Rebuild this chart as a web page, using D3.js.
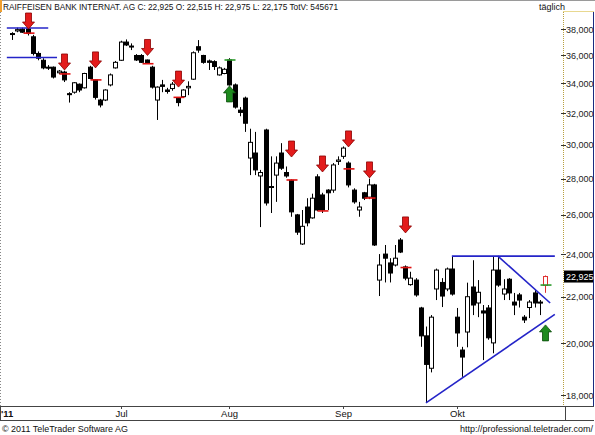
<!DOCTYPE html>
<html>
<head>
<meta charset="utf-8">
<script src="https://cdn.jsdelivr.net/npm/d3@7"></script>
<style>
  body { margin: 0; background: #fff; }
  svg { display: block; font-family: "Liberation Sans", Arial, sans-serif; }
</style>
</head>
<body>
<svg id="chart" width="595" height="435"></svg>
<script>
// daily candles, June - October 2011 (index 0 = first day shown)
const opens  = [37600,37850,37990,38000,37400,36150,35650,35150,35150,34750,
                34800,33300,33400,33950,33700,35150,34250,32870,32870,33900,
                35100,35650,37000,36700,36000,36000,35670,35150,32870,33900,
                33550,33650,33000,33100,33700,34300,36650,36000,35600,35550,
                34600,34700,35670,33900,32200,33000,29200,29500,28150,30920,
                27500,28200,29500,28350,27900,26000,24500,26420,25840,28100,
                27080,27350,27350,29000,29300,28900,27350,26260,27200,26960,
                27640,22760,24000,23570,23470,24700,23380,22550,22760,21500,
                20310,19010,22350,22650,22350,23280,21100,19730,20470,22440,
                21720,21370,21500,20020,23230,22120,22800,21760,22080,21100,
                21520,22170,21760,22515];
const highs  = [37750,38100,38100,38300,37550,36300,35800,35300,35200,34950,
                34900,33400,34100,34000,34750,35250,34300,32950,33600,34700,
                35600,37100,37200,36900,36100,36100,35700,35250,33800,34250,
                33700,34100,33050,33600,34150,36300,37150,36050,35700,35650,
                35200,35100,35800,34000,32400,33100,31000,30800,28500,31000,
                29300,29300,30100,28700,27950,26050,26260,26900,27150,28250,
                27200,27400,28900,29300,29900,29000,27450,26700,27250,28000,
                27700,24000,24450,23800,24450,24800,23450,23150,22850,21550,
                20700,21190,23300,22850,23350,23900,21500,19860,22640,23700,
                22760,21630,21630,23900,23900,22800,22850,22170,22170,21190,
                21850,22300,21850,22975];
const lows   = [37160,37750,37700,37500,36000,35650,35000,34950,34350,34650,
                34100,32700,33300,33400,33650,34300,32900,32380,32800,33800,
                35050,35600,36700,36400,35600,35450,35400,33650,31560,33400,
                33300,33500,32450,33050,33200,34250,36200,35400,34950,34950,
                34550,34650,33850,32300,31800,30800,28200,28200,25360,26500,
                26100,26700,28500,28050,25900,24960,24450,25400,25800,26200,
                26100,26260,27200,28790,29150,27500,26600,25900,26800,26850,
                24400,22030,22650,22650,23400,24050,22750,22500,22000,19860,
                17740,18850,21850,21540,22250,22050,19860,18680,19840,21190,
                21100,19330,20150,19600,22450,21850,21850,21190,21520,20850,
                21060,21520,21190,22175];
const closes = [37650,37950,37750,37650,36150,35800,35100,35100,34450,34870,
                34250,33250,34050,33550,34700,34350,33050,32540,33550,34600,
                35500,37000,36780,36650,35670,35500,35450,33750,33750,33800,
                33450,33950,32700,33550,33800,36200,36400,35500,35500,35200,
                35100,35000,33900,32400,32050,31350,30150,28500,28350,26640,
                27550,28900,28600,28150,26160,25100,25400,25580,26900,26260,
                26260,27200,28790,29080,29800,27640,26700,26420,26900,27640,
                24450,23470,23800,23090,23800,24100,22850,22850,22080,20310,
                19160,21100,23230,22030,23280,22120,20430,19450,22000,21630,
                22200,21280,20230,23230,22530,22350,22170,21630,21850,20980,
                21760,21720,21720,22925];
const totVolume = 545671;

const yTicks = [18000,20000,22000,24000,26000,28000,30000,32000,34000,36000,38000];
const monthLabels = ["Jul","Aug","Sep","Okt"];
const monthIdx = [21,42,64,86];

// sell signals: arrow tip and red stop mark
const sellIdx   = [3,10,16,26,32,54,60,65,69,76];
const sellTip   = [38000,34950,35100,36000,33750,29260,28380,29870,28040,25060];
const sellMark  = [37680,34670,34250,35400,33050,27920,26210,28560,26910,23350];
// buy signals
const buyIdx    = [42,103];
const buyTip    = [33830,20770];
const buyMark   = [35670,22530];

// hand drawn lines: [idx1, price1, idx2, price2]
const trendLines = [
  [-1, 38080, 7, 38080],
  [-1, 35850, 8.7, 35850],
  [85, 23900, 104.9, 23900],
  [93.9, 23900, 104, 21720],
  [80, 17710, 104.9, 21220]
];

const svg = d3.select("#chart");
const fmt = d3.format(",");
const n = closes.length;

const x = d3.scaleLinear().domain([0, n - 1]).range([12, 545]);
const y = d3.scaleLog().domain([18000, 38000]).range([395, 29]);

// frame
svg.append("rect").attr("x", 0).attr("y", 0).attr("width", 595).attr("height", 435).attr("fill", "#fff");
svg.append("line").attr("x1", 0).attr("x2", 595).attr("y1", 0.5).attr("y2", 0.5).attr("stroke", "#9a9a9a");
svg.append("rect").attr("x", 0).attr("y", 0).attr("width", 2).attr("height", 12).attr("fill", "#f0a030");

svg.append("text")
  .attr("x", 3).attr("y", 10)
  .attr("font-size", 9.5).attr("fill", "#111")
  .attr("textLength", 335).attr("lengthAdjust", "spacingAndGlyphs")
  .text(`RAIFFEISEN BANK INTERNAT. AG C: ${fmt(closes[n-1])} O: ${fmt(opens[n-1])} H: ${fmt(highs[n-1])} L: ${fmt(lows[n-1])} TotV: ${totVolume}`);
svg.append("text").attr("x", 539).attr("y", 10).attr("font-size", 9).attr("fill", "#111").text("täglich");

// right axis panel
svg.append("line").attr("x1", 563).attr("x2", 594).attr("y1", 11.5).attr("y2", 11.5).attr("stroke", "#e8d890");
svg.append("line").attr("x1", 563.5).attr("x2", 563.5).attr("y1", 12).attr("y2", 406)
  .attr("stroke", "#b8a040").attr("stroke-dasharray", "1,1");
svg.append("line").attr("x1", 593.5).attr("x2", 593.5).attr("y1", 12).attr("y2", 406).attr("stroke", "#1a2a80");
// left edge
svg.append("line").attr("x1", 0.5).attr("x2", 0.5).attr("y1", 12).attr("y2", 406)
  .attr("stroke", "#888").attr("stroke-dasharray", "1,2");

const yAxis = svg.append("g");
yTicks.forEach(v => {
  yAxis.append("line").attr("x1", 561).attr("x2", 566)
    .attr("y1", Math.round(y(v)) + 0.5).attr("y2", Math.round(y(v)) + 0.5).attr("stroke", "#333");
  yAxis.append("text").attr("x", 566).attr("y", y(v) + 3.5)
    .attr("font-size", 9).attr("fill", "#222").text(fmt(v));
});

// x axis band
svg.append("line").attr("x1", 0).attr("x2", 594).attr("y1", 406.5).attr("y2", 406.5).attr("stroke", "#444");
svg.append("line").attr("x1", 0).attr("x2", 594).attr("y1", 420.5).attr("y2", 420.5).attr("stroke", "#444");
svg.append("line").attr("x1", 565.5).attr("x2", 565.5).attr("y1", 406).attr("y2", 421).attr("stroke", "#444");
svg.append("line").attr("x1", 0.5).attr("x2", 0.5).attr("y1", 406).attr("y2", 421).attr("stroke", "#444");
svg.append("text").attr("x", 1).attr("y", 417).attr("font-size", 9.5).attr("font-weight", "bold").attr("fill", "#111").text("'11");
monthIdx.forEach((m, k) => {
  const px = Math.round(x(m)) + 0.5;
  svg.append("line").attr("x1", px).attr("x2", px).attr("y1", 406).attr("y2", 409).attr("stroke", "#444");
  svg.append("text").attr("x", px).attr("y", 417).attr("text-anchor", "middle")
    .attr("font-size", 9.5).attr("fill", "#111").text(monthLabels[k]);
});

svg.append("text").attr("x", 2).attr("y", 432).attr("font-size", 9.5).attr("fill", "#111")
  .attr("textLength", 126).attr("lengthAdjust", "spacingAndGlyphs").text("© 2011 TeleTrader Software AG");
svg.append("text").attr("x", 593).attr("y", 432).attr("font-size", 9).attr("fill", "#111")
  .attr("text-anchor", "end").text("http://professional.teletrader.com/");

// candles
const plot = svg.append("g");
const last = n - 1;
d3.range(n).forEach(i => {
  const cx = Math.round(x(i)) + 0.5;
  const up = closes[i] >= opens[i];
  const col = i === last ? "#e03030" : "#000";
  plot.append("line").attr("x1", cx).attr("x2", cx)
    .attr("y1", y(highs[i])).attr("y2", y(lows[i])).attr("stroke", col);
  const top = y(Math.max(opens[i], closes[i]));
  const bot = y(Math.min(opens[i], closes[i]));
  plot.append("rect").attr("x", cx - 2).attr("y", top)
    .attr("width", 4).attr("height", Math.max(1, bot - top))
    .attr("fill", up ? "#fff" : "#000").attr("stroke", col);
});

// trend lines
trendLines.forEach(t => {
  plot.append("line")
    .attr("x1", x(t[0])).attr("y1", y(t[1])).attr("x2", x(t[2])).attr("y2", y(t[3]))
    .attr("stroke", "#2424c8").attr("stroke-width", 1.6);
});

// signals
const downArrow = (cx, ty) => `M${cx-3},${ty-16}L${cx+3},${ty-16}L${cx+3},${ty-7}L${cx+6},${ty-7}L${cx},${ty}L${cx-6},${ty-7}L${cx-3},${ty-7}Z`;
const upArrow = (cx, ty) => `M${cx-3},${ty+16}L${cx+3},${ty+16}L${cx+3},${ty+7}L${cx+6},${ty+7}L${cx},${ty}L${cx-6},${ty+7}L${cx-3},${ty+7}Z`;

sellIdx.forEach((i, k) => {
  const cx = Math.round(x(i)) + 0.5;
  plot.append("line").attr("x1", cx - 5).attr("x2", cx + 6)
    .attr("y1", y(sellMark[k])).attr("y2", y(sellMark[k]))
    .attr("stroke", "#e01010").attr("stroke-width", 1.6);
  plot.append("path").attr("d", downArrow(cx, y(sellTip[k])))
    .attr("fill", "#e31b1b").attr("stroke", "#8a0000").attr("stroke-width", 0.8);
});
buyIdx.forEach((i, k) => {
  const cx = Math.round(x(i)) + 0.5;
  plot.append("line").attr("x1", cx - 5).attr("x2", cx + 6)
    .attr("y1", y(buyMark[k])).attr("y2", y(buyMark[k]))
    .attr("stroke", "#2a9a2a").attr("stroke-width", 1.6);
  plot.append("path").attr("d", upArrow(cx, y(buyTip[k])))
    .attr("fill", "#1e8a1e").attr("stroke", "#0a4a0a").attr("stroke-width", 0.8);
});

// last price tag
const ly = y(closes[last]);
svg.append("rect").attr("x", 564).attr("y", ly - 6).attr("width", 29).attr("height", 12).attr("fill", "#000");
svg.append("text").attr("x", 566).attr("y", ly + 3.5).attr("font-size", 9).attr("fill", "#fff").text(fmt(closes[last]));
</script>
</body>
</html>
